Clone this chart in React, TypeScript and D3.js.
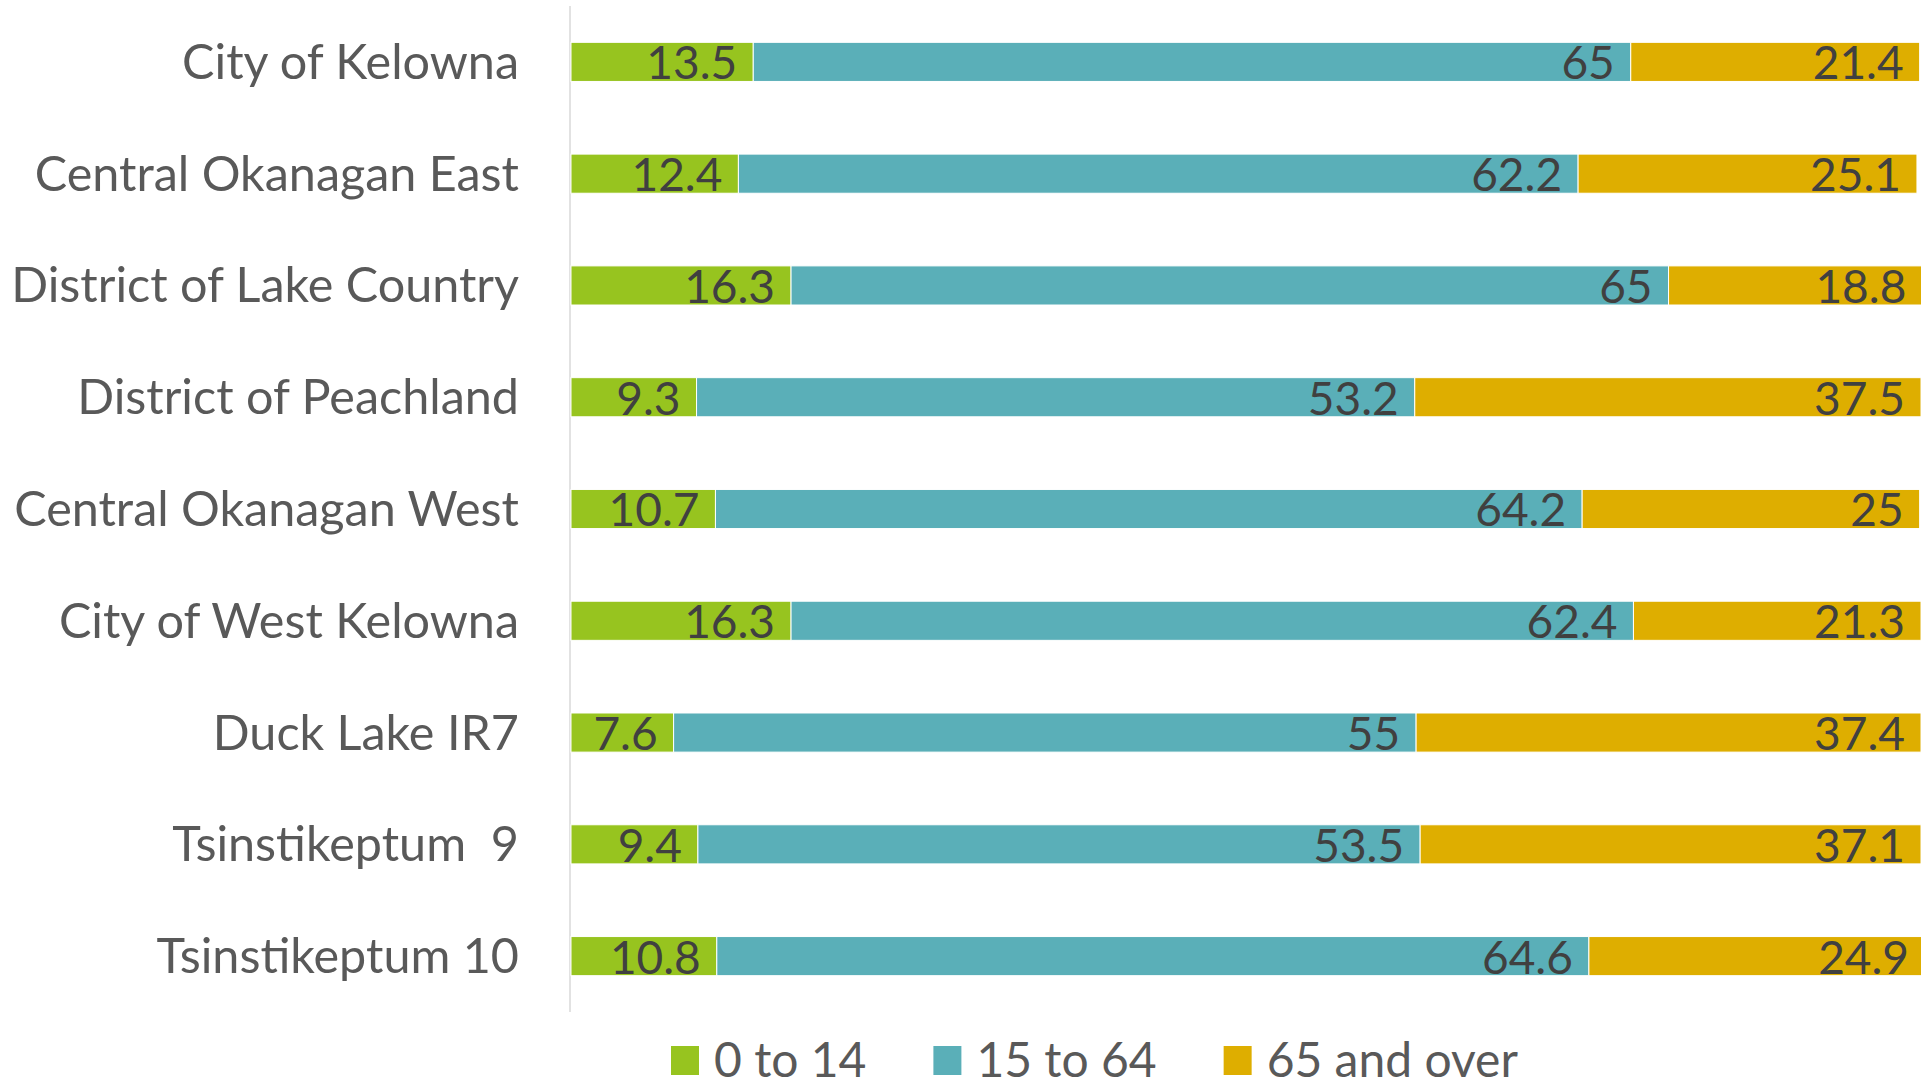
import * as React from 'react';
import * as d3 from 'd3';

const categories = [
  'City of Kelowna',
  'Central Okanagan East',
  'District of Lake Country',
  'District of Peachland',
  'Central Okanagan West',
  'City of West Kelowna',
  'Duck Lake IR7',
  'Tsinstikeptum  9',
  'Tsinstikeptum 10',
];
const seriesNames = ['0 to 14', '15 to 64', '65 and over'];
const age0to14 = [13.5, 12.4, 16.3, 9.3, 10.7, 16.3, 7.6, 9.4, 10.8];
const age15to64 = [65, 62.2, 65, 53.2, 64.2, 62.4, 55, 53.5, 64.6];
const age65plus = [21.4, 25.1, 18.8, 37.5, 25, 21.3, 37.4, 37.1, 24.9];
const colors = ['#97C41F', '#5AAFB8', '#DEAE00'];

const W = 1921, H = 1086;
const FONT = 'Lato, "Noto Sans", sans-serif';
const CAT_FS = 48.5;
const LBL_FS = 46;
const LEG_FS = 48;

function textWidth(s: string, size: number) {
  const c = document.createElement('canvas').getContext('2d');
  if (!c) return s.length * size * 0.5;
  c.font = `${size}px Lato`;
  return c.measureText(s).width;
}

export default function App() {
  const x = d3.scaleLinear().domain([0, 100]).range([571, 1921]);
  const y = d3.scaleBand<string>().domain(categories).range([6, 1012]).paddingInner(0.65).paddingOuter(0.325);

  const rows = categories.map((c, i) => ({ cat: c, vals: [age0to14[i], age15to64[i], age65plus[i]] }));

  // legend layout
  let lx = 671;
  const legend = seriesNames.map((n, i) => {
    const item = { n, i, x: lx };
    lx += 28 + 15 + textWidth(n, LEG_FS) + 67;
    return item;
  });
  const legY = 1060;

  return (
    <div style={{ position: 'absolute', left: 0, top: 0 }}>
      <svg width={W} height={H} style={{ display: 'block', background: '#fff' }} fontFamily={FONT}>
        <line x1={570} x2={570} y1={6} y2={1012} stroke="#D9D9D9" strokeWidth={1.5} />
        {rows.map(r => {
          let acc = 0;
          const y0 = y(r.cat)!;
          const bh = y.bandwidth();
          return (
            <g key={r.cat}>
              <text x={519} y={y0 + bh / 2} dy="0.35em" textAnchor="end" fontSize={CAT_FS} fill="#595959" style={{ whiteSpace: 'pre' }}>{r.cat}</text>
              {r.vals.map((v, i) => {
                const a = acc;
                acc += v;
                return (
                  <g key={i}>
                    <rect x={x(a)} y={y0} width={x(acc) - x(a)} height={bh} fill={colors[i]} stroke="#fff" strokeWidth={1} />
                    <text x={x(acc) - 16} y={y0 + bh / 2} dy="0.38em" textAnchor="end" fontSize={LBL_FS} fill="#404040">{v}</text>
                  </g>
                );
              })}
            </g>
          );
        })}
        {legend.map(l => (
          <g key={l.n}>
            <rect x={l.x} y={legY - 14} width={28} height={29} fill={colors[l.i]} />
            <text x={l.x + 43} y={legY} dy="0.36em" fontSize={LEG_FS} fill="#595959">{l.n}</text>
          </g>
        ))}
      </svg>
    </div>
  );
}
